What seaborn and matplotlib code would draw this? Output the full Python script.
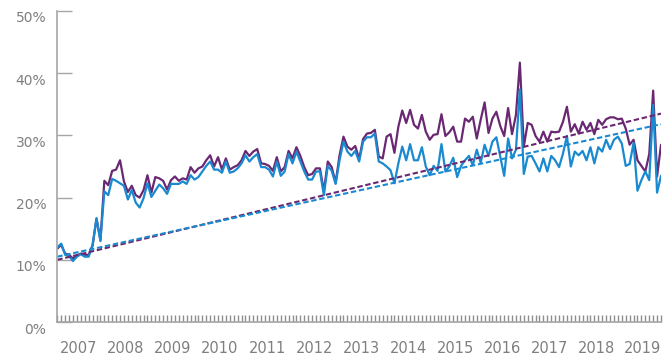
import numpy as np
import pandas as pd
import matplotlib
matplotlib.use("Agg")
import matplotlib.pyplot as plt
import seaborn as sns
from matplotlib.transforms import ScaledTranslation

# Monthly shares (%), January 2007 onwards
year_labels = ["2007", "2008", "2009", "2010", "2011", "2012", "2013",
               "2014", "2015", "2016", "2017", "2018", "2019"]

purple_share = [
    11.8, 12.4, 11.0, 10.8, 10.2, 10.7, 11.0, 10.8, 10.8, 12.3, 16.6, 13.2,   # 2007
    22.7, 22.0, 24.3, 24.5, 26.0, 22.6, 20.9, 21.9, 20.4, 20.0, 21.2, 23.6,   # 2008
    20.8, 23.3, 23.1, 22.7, 21.3, 22.8, 23.4, 22.7, 23.1, 22.9, 24.9, 24.0,   # 2009
    24.7, 25.0, 26.0, 26.8, 25.0, 26.5, 24.5, 26.3, 24.5, 24.9, 25.2, 26.0,   # 2010
    27.5, 26.7, 27.4, 27.8, 25.5, 25.4, 25.1, 24.3, 26.5, 24.2, 24.9, 27.5,   # 2011
    26.3, 28.1, 26.7, 24.9, 23.6, 23.8, 24.7, 24.7, 21.0, 25.8, 24.9, 22.4,   # 2012
    26.8, 29.8, 28.2, 27.7, 28.3, 26.2, 29.4, 30.3, 30.4, 30.9, 26.6, 26.3,   # 2013
    29.8, 30.2, 27.2, 31.4, 34.0, 32.0, 34.1, 31.7, 31.1, 33.3, 30.6, 29.3,   # 2014
    30.1, 30.2, 33.4, 29.9, 30.5, 31.4, 29.0, 29.0, 32.7, 32.2, 33.0, 29.5,   # 2015
    32.5, 35.3, 30.4, 32.7, 33.8, 31.5, 29.9, 34.4, 30.2, 33.3, 41.7, 28.2,   # 2016
    32.0, 31.7, 29.9, 29.0, 30.6, 29.0, 30.6, 30.5, 30.6, 32.2, 34.6, 30.6,   # 2017
    31.8, 30.3, 32.2, 30.9, 32.0, 30.2, 32.5, 31.7, 32.6, 32.9, 32.9, 32.6,   # 2018
    32.7, 31.1, 28.5, 29.3, 26.0, 25.1, 24.2, 27.0, 37.2, 23.4, 28.5,         # 2019
]

blue_share = [
    12.0, 12.6, 10.8, 10.6, 9.8, 10.5, 10.9, 10.5, 10.5, 12.4, 16.7, 13.0,    # 2007
    21.0, 20.4, 23.0, 22.7, 22.3, 21.9, 19.7, 21.2, 19.2, 18.4, 19.9, 22.3,   # 2008
    20.1, 21.1, 22.1, 21.5, 20.6, 22.2, 22.2, 22.2, 22.6, 22.2, 23.6, 22.9,   # 2009
    23.3, 24.2, 25.1, 25.8, 24.5, 24.5, 24.0, 25.8, 24.0, 24.2, 24.7, 25.5,   # 2010
    26.8, 25.8, 26.5, 27.0, 24.9, 24.9, 24.5, 23.4, 25.8, 23.5, 24.2, 27.0,   # 2011
    25.5, 27.4, 25.8, 24.2, 22.9, 22.9, 24.2, 24.2, 20.4, 25.1, 24.3, 22.2,   # 2012
    26.0, 29.0, 27.4, 26.7, 27.5, 25.8, 29.0, 29.7, 29.7, 30.3, 25.8, 25.5,   # 2013
    25.0, 24.4, 22.3, 25.5, 28.2, 26.0, 28.6, 26.0, 26.0, 28.1, 25.0, 23.6,   # 2014
    25.1, 24.3, 28.6, 24.2, 25.0, 26.4, 23.3, 25.1, 26.0, 26.7, 25.2, 27.7,   # 2015
    25.6, 28.5, 26.7, 29.0, 29.7, 26.6, 23.5, 29.5, 26.3, 27.7, 37.4, 23.8,   # 2016
    26.6, 26.7, 25.5, 24.2, 26.3, 24.2, 26.7, 26.0, 24.9, 27.1, 29.9, 25.0,   # 2017
    27.4, 26.8, 27.5, 26.0, 28.1, 25.5, 28.1, 27.4, 29.3, 27.8, 29.3, 29.8,   # 2018
    28.7, 25.1, 25.4, 28.8, 21.1, 22.8, 24.2, 22.8, 34.9, 20.8, 23.5,         # 2019
]

# Linear trend values at the first and last month
purple_trend = [10.0, 33.5]
blue_trend = [10.5, 31.8]

PURPLE = "#6a2872"
BLUE = "#1a8ad0"
AXIS_GREY = "#a6a6a6"
TEXT_GREY = "#7f7f7f"

sns.set_style("white")
plt.rcParams["font.family"] = ["DejaVu Sans"]

n = len(purple_share)
months = np.arange(n)
df = pd.DataFrame({
    "month": np.concatenate([months, months]),
    "share": purple_share + blue_share,
    "series": ["purple"] * n + ["blue"] * n,
})
trend = pd.DataFrame({
    "month": [0, n - 1, 0, n - 1],
    "share": purple_trend + blue_trend,
    "series": ["purple", "purple", "blue", "blue"],
})
palette = {"purple": PURPLE, "blue": BLUE}

fig = plt.figure(figsize=(6.72, 3.6), dpi=100)
ax = fig.add_axes([57.3 / 672, 38 / 360, (661 - 57.3) / 672, 311 / 360])

sns.lineplot(data=df, x="month", y="share", hue="series", palette=palette,
             hue_order=["purple", "blue"], linewidth=1.6, legend=False, ax=ax)
sns.lineplot(data=trend, x="month", y="share", hue="series", palette=palette,
             hue_order=["purple", "blue"], linewidth=1.5, legend=False, ax=ax,
             linestyle=(0, (2.6, 1.3)))

ax.set_xlim(0, n - 1)
ax.set_ylim(0, 50)
ax.set_xlabel("")
ax.set_ylabel("")

for side in ("top", "right"):
    ax.spines[side].set_visible(False)
for side in ("left", "bottom"):
    ax.spines[side].set_color(AXIS_GREY)
    ax.spines[side].set_linewidth(1.2)

# y axis: percentage ticks pointing inward, labels sitting just below each tick
yticks = [0, 10, 20, 30, 40, 50]
ax.set_yticks(yticks)
ax.set_yticklabels([f"{v}%" for v in yticks])
ax.tick_params(axis="y", left=True, direction="in", length=10.8, width=1.0,
               color=AXIS_GREY, pad=8, labelsize=10, labelcolor=TEXT_GREY)
shift = ScaledTranslation(0, -6 / 100, fig.dpi_scale_trans)
for lbl in ax.get_yticklabels():
    lbl.set_transform(lbl.get_transform() + shift)

# x axis: a short tick for every month, year names centred under each year
ax.set_xticks(months)
ax.set_xticklabels([])
ax.tick_params(axis="x", which="major", bottom=True, direction="in",
               length=5.2, width=1.0, color="#8e8e8e")
year_centres = [12 * k + 5.5 for k in range(len(year_labels))]
year_centres[-1] = 149.4
ax.set_xticks(year_centres, minor=True)
ax.set_xticklabels(year_labels, minor=True)
ax.tick_params(axis="x", which="minor", bottom=True, length=0, pad=14,
               labelsize=10.5, labelcolor=TEXT_GREY)

fig.savefig("out.png", dpi=100)
